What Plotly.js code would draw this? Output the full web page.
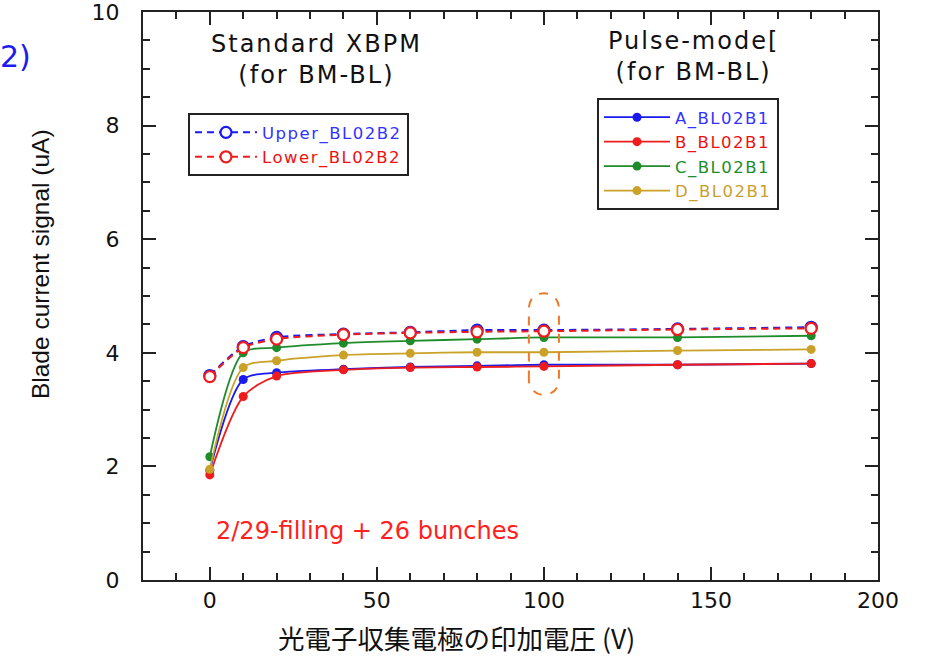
<!DOCTYPE html>
<html>
<head>
<meta charset="utf-8">
<script src="https://cdn.plot.ly/plotly-3.0.1.min.js"></script>
<style>
html,body{margin:0;padding:0;background:#fff;}
#chart{width:933px;height:656px;}
</style>
</head>
<body>
<div id="chart"></div>
<script>
// Applied voltage (V)
const voltage = [0, 10, 20, 40, 60, 80, 100, 140, 180];
// Pulse-mode XBPM blades (uA)
const A_BL02B1 = [1.93, 3.53, 3.65, 3.71, 3.75, 3.77, 3.79, 3.79, 3.81];
const B_BL02B1 = [1.85, 3.23, 3.59, 3.70, 3.74, 3.75, 3.76, 3.79, 3.81];
const C_BL02B1 = [2.17, 4.00, 4.09, 4.17, 4.21, 4.24, 4.27, 4.27, 4.30];
const D_BL02B1 = [1.95, 3.74, 3.86, 3.96, 3.99, 4.01, 4.01, 4.04, 4.06];
// Standard XBPM blades (uA)
const Upper_BL02B2 = [3.60, 4.11, 4.27, 4.33, 4.36, 4.40, 4.40, 4.42, 4.45];
const Lower_BL02B2 = [3.58, 4.09, 4.24, 4.32, 4.35, 4.37, 4.38, 4.41, 4.43];

const xTicks = [0, 50, 100, 150, 200];
const yTicks = [0, 2, 4, 6, 8, 10];

const colBlue = '#1a1aee', colRed = '#ee1c1c', colGreen = '#1e8c2a', colGold = '#c9a227';

function label(name, color) {
  return '<span style="color:' + color + ';letter-spacing:1.5px">' + name + '</span>';
}
function solid(name, y, color, txtColor) {
  return {
    x: voltage, y: y, type: 'scatter', mode: 'lines+markers',
    name: label(name, txtColor),
    legend: 'legend2',
    line: {color: color, width: 1.8, shape: 'spline', smoothing: 0.8},
    marker: {color: color, size: 9, symbol: 'circle'}
  };
}
function dashed(name, y, color, txtColor) {
  return {
    x: voltage, y: y, type: 'scatter', mode: 'lines+markers',
    name: label(name, txtColor),
    legend: 'legend',
    line: {color: color, width: 2, dash: '7px,5px', shape: 'spline', smoothing: 0.8},
    marker: {color: '#ffffff', size: 11, symbol: 'circle', line: {color: color, width: 2.2}}
  };
}

const traces = [
  solid('A_BL02B1', A_BL02B1, colBlue, '#3333ff'),
  solid('B_BL02B1', B_BL02B1, colRed, '#ee1111'),
  solid('C_BL02B1', C_BL02B1, colGreen, '#1e8c2a'),
  solid('D_BL02B1', D_BL02B1, colGold, '#c9a030'),
  dashed('Upper_BL02B2', Upper_BL02B2, colBlue, '#3333ff'),
  dashed('Lower_BL02B2', Lower_BL02B2, colRed, '#ee1111')
];

const cx = 100, hw = 4.5, yt = 5.05, yb = 3.26, ry = 0.27;
const ovalPath = 'M' + (cx - hw) + ',' + (yb + ry) + ' L' + (cx - hw) + ',' + (yt - ry) +
  ' C' + (cx - hw) + ',' + (yt + ry / 3) + ' ' + (cx + hw) + ',' + (yt + ry / 3) + ' ' + (cx + hw) + ',' + (yt - ry) +
  ' L' + (cx + hw) + ',' + (yb + ry) +
  ' C' + (cx + hw) + ',' + (yb - ry / 3) + ' ' + (cx - hw) + ',' + (yb - ry / 3) + ' ' + (cx - hw) + ',' + (yb + ry) + ' Z';

const tickFont = {family: 'DejaVu Sans', size: 22, color: '#111'};
const txtFont = {family: 'DejaVu Sans', size: 24, color: '#111'};

const axisCommon = {
  showgrid: false, zeroline: false, showline: true, linecolor: '#222', linewidth: 2,
  mirror: 'allticks', ticks: 'inside', ticklen: 13, tickwidth: 2, tickcolor: '#222',
  tickfont: tickFont, ticklabeloverflow: 'allow'
};

const layout = {
  width: 933, height: 656,
  margin: {l: 143, r: 55, t: 12, b: 76},
  paper_bgcolor: '#ffffff', plot_bgcolor: '#ffffff',
  showlegend: true,
  xaxis: Object.assign({}, axisCommon, {
    range: [-20, 200], tickmode: 'array', tickvals: xTicks, ticktext: xTicks.map(String),
    ticklabelstandoff: 0,
    minor: {dtick: 10, tick0: 0, ticks: 'inside', ticklen: 7, tickwidth: 2, tickcolor: '#222', showgrid: false}
  }),
  yaxis: Object.assign({}, axisCommon, {
    range: [0, 10], tickmode: 'array', tickvals: yTicks, ticktext: yTicks.map(String),
    ticklabelstandoff: 17,
    minor: {dtick: 0.5, tick0: 0, ticks: 'inside', ticklen: 7, tickwidth: 2, tickcolor: '#222', showgrid: false}
  }),
  legend: {
    x: 0.0612, y: 0.822, xanchor: 'left', yanchor: 'top',
    bgcolor: '#ffffff', bordercolor: '#222', borderwidth: 2,
    font: {family: 'DejaVu Sans', size: 16.5}, itemwidth: 62, tracegroupgap: 0
  },
  legend2: {
    x: 0.6177, y: 0.8486, xanchor: 'left', yanchor: 'top',
    bgcolor: '#ffffff', bordercolor: '#222', borderwidth: 2,
    font: {family: 'DejaVu Sans', size: 16.5}, itemwidth: 66, tracegroupgap: 0
  },
  shapes: [{
    type: 'path', xref: 'x', yref: 'y', path: ovalPath,
    line: {color: '#f07a28', width: 2, dash: 'dash'}, fillcolor: 'rgba(0,0,0,0)'
  }],
  annotations: [
    {text: '<span style="letter-spacing:2px">Standard XBPM<br>(for BM-BL)</span>', xref: 'paper', yref: 'paper', x: 0.2354, y: 0.917, xanchor: 'center', yanchor: 'middle', align: 'center', showarrow: false, font: txtFont},
    {text: '<span style="letter-spacing:2px">Pulse-mode[<br>(for BM-BL)</span>', xref: 'paper', yref: 'paper', x: 0.7483, y: 0.9217, xanchor: 'center', yanchor: 'middle', align: 'center', showarrow: false, font: txtFont},
    {text: '2)', xref: 'paper', yref: 'paper', x: -0.1728, y: 0.9208, xanchor: 'center', yanchor: 'middle', showarrow: false, font: {family: 'DejaVu Sans', size: 30, color: '#1a1aee'}},
    {text: '2/29-filling + 26 bunches', xref: 'paper', yref: 'paper', x: 0.3061, y: 0.0863, xanchor: 'center', yanchor: 'middle', showarrow: false, font: {family: 'DejaVu Sans', size: 24, color: '#ff2020'}},
    {text: '光電子収集電極の印加電圧\u00a0(V)', xref: 'paper', yref: 'paper', x: 0.4272, y: -0.1004, xanchor: 'center', yanchor: 'middle', showarrow: false, font: {family: 'Noto Sans CJK JP', size: 26.5, color: '#111'}},
    {text: 'Blade current signal (uA)', xref: 'paper', yref: 'paper', x: -0.1401, y: 0.5563, xanchor: 'center', yanchor: 'middle', textangle: -90, showarrow: false, font: {family: 'Liberation Sans', size: 24.5, color: '#111'}}
  ]
};

Plotly.newPlot('chart', traces, layout, {displayModeBar: false, responsive: false});
</script>
</body>
</html>
